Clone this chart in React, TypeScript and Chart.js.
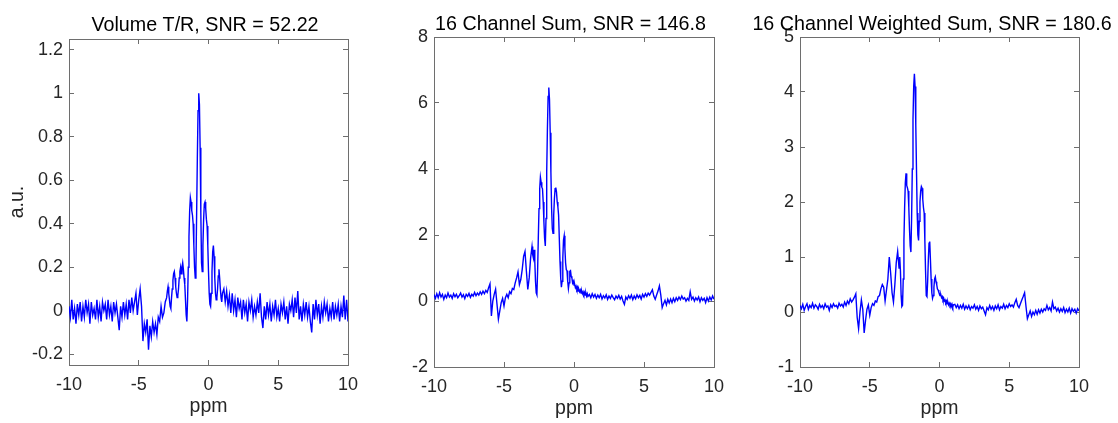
import React, { useEffect, useRef } from "react";
import { Chart, registerables } from "chart.js";

Chart.register(...registerables);

// ppm axis samples (finer sampling across the central multiplet)
const ppm = [
  -10, -9.9, -9.8, -9.7, -9.6, -9.5, -9.4, -9.3, -9.2, -9.1,
  -9, -8.9, -8.8, -8.7, -8.6, -8.5, -8.4, -8.3, -8.2, -8.1,
  -8, -7.9, -7.8, -7.7, -7.6, -7.5, -7.4, -7.3, -7.2, -7.1,
  -7, -6.9, -6.8, -6.7, -6.6, -6.5, -6.4, -6.3, -6.2, -6.1,
  -6, -5.9, -5.8, -5.7, -5.6, -5.5, -5.4, -5.3, -5.2, -5.1,
  -5, -4.9, -4.8, -4.7, -4.6, -4.5, -4.4, -4.3, -4.2, -4.1,
  -4, -3.9, -3.8, -3.7, -3.6, -3.5, -3.4, -3.3, -3.2, -3.1,
  -3, -2.95, -2.9, -2.85, -2.8, -2.75, -2.7, -2.65, -2.6, -2.55,
  -2.5, -2.45, -2.4, -2.35, -2.3, -2.25, -2.2, -2.15, -2.1, -2.05,
  -2, -1.95, -1.9, -1.85, -1.8, -1.75, -1.7, -1.65, -1.6, -1.55,
  -1.5, -1.45, -1.4, -1.35, -1.3, -1.25, -1.2, -1.15, -1.1, -1.05,
  -1, -0.95, -0.9, -0.85, -0.8, -0.75, -0.7, -0.65, -0.6, -0.55,
  -0.5, -0.45, -0.4, -0.35, -0.3, -0.25, -0.2, -0.15, -0.1, -0.05,
  0, 0.05, 0.1, 0.15, 0.2, 0.25, 0.3, 0.35, 0.4, 0.45,
  0.5, 0.55, 0.6, 0.65, 0.7, 0.75, 0.8, 0.85, 0.9, 0.95,
  1,
  1.1, 1.2, 1.3, 1.4, 1.5, 1.6, 1.7, 1.8, 1.9, 2,
  2.1, 2.2, 2.3, 2.4, 2.5, 2.6, 2.7, 2.8, 2.9, 3,
  3.1, 3.2, 3.3, 3.4, 3.5, 3.6, 3.7, 3.8, 3.9, 4,
  4.1, 4.2, 4.3, 4.4, 4.5, 4.6, 4.7, 4.8, 4.9, 5,
  5.1, 5.2, 5.3, 5.4, 5.5, 5.6, 5.7, 5.8, 5.9, 6,
  6.1, 6.2, 6.3, 6.4, 6.5, 6.6, 6.7, 6.8, 6.9, 7,
  7.1, 7.2, 7.3, 7.4, 7.5, 7.6, 7.7, 7.8, 7.9, 8,
  8.1, 8.2, 8.3, 8.4, 8.5, 8.6, 8.7, 8.8, 8.9, 9,
  9.1, 9.2, 9.3, 9.4, 9.5, 9.6, 9.7, 9.8, 9.9, 10,
];

const volumeTR = [
  0.02, -0.03, 0.05, -0.04, 0.01, -0.06, 0.03, -0.02, 0.04, -0.05,
  0.02, -0.03, 0.05, -0.01, 0.03, -0.06, 0.04, -0.02, 0.01, -0.04,
  0.05, -0.03, 0.02, -0.05, 0.04, 0.0, 0.03, -0.04, 0.05, -0.02,
  0.02, -0.05, 0.04, -0.01, 0.03, -0.03, -0.09, 0.02, -0.03, 0.04,
  -0.02, 0.03, -0.04, 0.05, -0.01, 0.06, 0.0, 0.04, 0.08, -0.02,
  0.05, 0.1, 0.02, -0.14, -0.06, -0.1, -0.04, -0.18, -0.07, -0.12,
  -0.05, -0.1, -0.06, -0.11, -0.03, -0.05, 0.02, -0.03, -0.01, 0.04,
  0.06, 0.09, 0.11, 0.08, 0.05, 0.02, 0.01, 0.06, 0.1, 0.14,
  0.17, 0.18, 0.15, 0.11, 0.08, 0.06, 0.07, 0.1, 0.15, 0.18,
  0.2, 0.17, 0.2, 0.22, 0.19, 0.15, 0.12, 0.05, -0.02, -0.05,
  0.05, 0.2, 0.34, 0.46, 0.52, 0.5, 0.46, 0.44, 0.4, 0.3,
  0.2, 0.15, 0.2, 0.45, 0.7, 0.92, 1.0, 0.95, 0.75, 0.45,
  0.22, 0.18, 0.3, 0.42, 0.49, 0.5, 0.47, 0.42, 0.39, 0.3,
  0.18, 0.08, 0.03, 0.02, 0.08, 0.18, 0.27, 0.3, 0.25, 0.15,
  0.08, 0.05, 0.06, 0.1, 0.16, 0.19, 0.15, 0.1, 0.06, 0.04,
  0.08,
  0.1, 0.04, 0.09, 0.02, 0.07, -0.01, 0.08, 0.0, 0.05, -0.03,
  0.06, 0.01, 0.04, -0.04, 0.05, -0.01, 0.03, -0.05, 0.04, 0.0,
  0.05, -0.03, 0.02, -0.02, 0.04, -0.01, 0.08, -0.03, -0.08, 0.02,
  -0.04, 0.04, -0.02, 0.03, -0.05, 0.02, -0.02, 0.05, -0.03, 0.01,
  -0.05, 0.03, -0.01, 0.04, -0.04, 0.02, -0.06, 0.03, 0.0, 0.05,
  -0.03, 0.06, -0.01, 0.09, -0.04, 0.02, -0.05, 0.03, -0.02, 0.04,
  -0.03, 0.02, -0.05, -0.1, 0.03, -0.04, 0.05, -0.02, 0.03, -0.06,
  0.02, -0.03, 0.04, -0.01, 0.03, -0.05, 0.01, -0.03, 0.04, -0.04,
  0.02, -0.02, 0.03, -0.05, 0.02, -0.03, 0.07, -0.04, 0.05, -0.05,
];

const channelSum = [
  0.2, 0.08, 0.22, 0.1, 0.25, 0.12, 0.2, 0.05, 0.18, 0.1,
  0.24, 0.12, 0.18, 0.08, 0.22, 0.13, 0.2, 0.1, 0.16, 0.24,
  0.12, 0.19, 0.07, 0.2, 0.14, 0.23, 0.11, 0.2, 0.15, 0.26,
  0.16, 0.24, 0.18, 0.28, 0.2, 0.3, 0.22, 0.32, 0.26, 0.4,
  0.52, -0.45, 0.0, 0.2, 0.36, -0.1, -0.55, -0.3, -0.05, 0.08,
  -0.15, 0.1, 0.2, 0.1, 0.28, 0.22, 0.38, 0.35, 0.55, 0.7,
  0.88, 0.5, 0.65, 0.95, 1.35, 1.5, 0.9, 0.35, 0.7, 1.3,
  1.65, 1.4, 1.3, 1.55, 1.2, 0.6, 0.25, 0.19, 0.9, 1.9,
  2.8, 3.4, 3.75, 3.6, 3.45, 3.4, 3.0, 2.4, 1.9, 1.67,
  2.5, 3.9, 5.2, 6.2, 6.47, 6.1, 5.1, 3.9, 2.8, 2.2,
  2.05, 2.6, 3.1, 3.4, 3.44, 3.3, 3.0, 2.85, 2.6, 1.9,
  1.2, 0.7, 0.42, 0.6, 1.3, 1.85, 1.98, 1.6, 1.15, 0.95,
  0.92, 0.6, 0.38, 0.55, 0.9, 0.92, 0.75, 0.7, 0.55, 0.6,
  0.48, 0.5, 0.4, 0.45, 0.36, 0.42, 0.3, 0.35, 0.28, 0.33,
  0.24, 0.3, 0.22, 0.28, 0.2, 0.26, 0.18, 0.24, 0.15, 0.22,
  0.14,
  0.2, 0.1, 0.22, 0.12, 0.2, 0.08, 0.18, 0.1, 0.2, 0.06,
  0.16, 0.09, 0.19, 0.05, 0.15, 0.08, 0.18, 0.1, 0.04, 0.15,
  0.08, 0.17, 0.06, 0.14, 0.0, -0.1, 0.12, 0.05, 0.16, 0.08,
  0.18, 0.04, 0.15, 0.07, 0.19, 0.1, 0.17, 0.06, 0.2, 0.12,
  0.22, 0.14, 0.24, 0.18, 0.26, 0.34, 0.15, 0.05, 0.18, 0.3,
  0.46, 0.18, -0.2, -0.08, 0.02, -0.12, 0.05, -0.06, 0.06, -0.05,
  0.08, -0.02, 0.1, 0.02, 0.12, 0.04, 0.15, 0.06, 0.1, 0.0,
  0.08, 0.02, 0.28, 0.05, 0.12, 0.0, 0.1, 0.03, 0.12, -0.02,
  0.1, 0.02, 0.08, -0.05, 0.1, 0.0, 0.12, 0.03, 0.15, 0.05,
];

const weightedSum = [
  0.12, 0.06, 0.14, 0.03, 0.1, 0.15, 0.05, 0.12, 0.08, 0.16,
  0.07, 0.13, 0.1, 0.05, 0.14, 0.08, 0.12, 0.06, 0.15, 0.09,
  0.11, 0.03, 0.13, 0.08, 0.15, 0.1, 0.12, 0.07, 0.16, 0.11,
  0.14, 0.09, 0.18, 0.12, 0.2, 0.15, 0.24, 0.18, 0.22, 0.27,
  0.33, -0.1, -0.3, 0.0, 0.22, 0.05, -0.38, -0.15, 0.05, 0.13,
  -0.06, 0.08, 0.15, 0.12, 0.2, 0.18, 0.28, 0.3, 0.42, 0.5,
  0.45, 0.2, 0.4, 0.6, 1.0, 0.7, 0.35, 0.18, 0.5, 0.9,
  1.1, 0.95, 0.8, 1.0, 0.75, 0.3, 0.1, 0.12, 0.6, 1.3,
  1.9, 2.35, 2.52, 2.3, 2.26, 2.2, 1.9, 1.5, 1.2, 1.09,
  1.7, 2.6, 3.5, 4.1, 4.33, 4.1, 3.4, 2.6, 1.8, 1.4,
  1.3, 1.65, 2.0, 2.2, 2.28, 2.25, 2.05, 1.9, 1.8, 1.3,
  0.75, 0.3, 0.28, 0.55, 0.95, 1.25, 1.28, 0.95, 0.6, 0.35,
  0.25, 0.3, 0.45, 0.6, 0.64, 0.55, 0.5, 0.42, 0.4, 0.36,
  0.33, 0.3, 0.31, 0.26, 0.28, 0.22, 0.25, 0.2, 0.22, 0.17,
  0.2, 0.15, 0.18, 0.13, 0.16, 0.12, 0.15, 0.1, 0.14, 0.09,
  0.13,
  0.14, 0.08, 0.13, 0.06, 0.12, 0.07, 0.14, 0.05, 0.11, 0.06,
  0.12, 0.04, 0.1, 0.07, 0.13, 0.05, 0.1, 0.03, 0.11, 0.06,
  0.09, 0.02, -0.05, 0.08, 0.04, 0.12, 0.05, 0.1, 0.03, 0.11,
  0.06, 0.13, 0.04, 0.1, 0.07, 0.14, 0.06, 0.12, 0.08, 0.15,
  0.1, 0.13, 0.09, 0.17, 0.23, 0.12, 0.08, 0.15, 0.22, 0.28,
  0.35, 0.1, -0.12, -0.05, 0.02, -0.08, 0.0, -0.05, 0.03, -0.04,
  0.04, -0.02, 0.05, 0.0, 0.06, 0.03, 0.12, 0.04, 0.08, 0.02,
  0.18, 0.06, 0.09, 0.02, 0.07, 0.0, 0.06, 0.01, 0.08, -0.01,
  0.05, 0.0, 0.07, -0.02, 0.06, 0.01, 0.05, -0.02, 0.06, 0.02,
];

const xTicks = [-10, -5, 0, 5, 10];
const yTicksVolume = [-0.2, 0, 0.2, 0.4, 0.6, 0.8, 1, 1.2];
const yTicksSum = [-2, 0, 2, 4, 6, 8];
const yTicksWeighted = [-1, 0, 1, 2, 3, 4, 5];

const titles = [
  "Volume T/R, SNR = 52.22",
  "16 Channel Sum, SNR = 146.8",
  "16 Channel Weighted Sum, SNR = 180.6",
];
const xLabel = "ppm";
const yLabel = "a.u.";

const FONT = "'Liberation Sans', Arial, Helvetica, sans-serif";
const PAGE_H = 423;

type PanelCfg = {
  series: number[];
  yTicks: number[];
  yMin: number;
  yMax: number;
  title: string;
  yTitle: string | null;
  box: { left: number; width: number };
  area: { left: number; right: number; top: number; bottom: number };
  titleX: number;
  titleY: number;
  xTitlePad: number;
};

const panels: PanelCfg[] = [
  {
    series: volumeTR, yTicks: yTicksVolume, yMin: -0.25, yMax: 1.25,
    title: titles[0], yTitle: yLabel,
    box: { left: 0, width: 385 },
    area: { left: 69, right: 348, top: 39, bottom: 365 },
    titleX: 205, titleY: 31, xTitlePad: 4.6,
  },
  {
    series: channelSum, yTicks: yTicksSum, yMin: -2, yMax: 8,
    title: titles[1], yTitle: null,
    box: { left: 385, width: 365 },
    area: { left: 434, right: 714, top: 37, bottom: 367 },
    titleX: 570.5, titleY: 29.5, xTitlePad: 2.9,
  },
  {
    series: weightedSum, yTicks: yTicksWeighted, yMin: -1, yMax: 5,
    title: titles[2], yTitle: null,
    box: { left: 750, width: 368 },
    area: { left: 800, right: 1079, top: 37, bottom: 367 },
    titleX: 932, titleY: 29.5, xTitlePad: 2.9,
  },
];

const AXIS_COLOR = "#6e6e6e";
const TEXT_COLOR = "#262626";

function Panel({ cfg }: { cfg: PanelCfg }) {
  const ref = useRef<HTMLCanvasElement | null>(null);

  useEffect(() => {
    const canvas = ref.current;
    if (!canvas) return;
    const a = cfg.area;
    const W = cfg.box.width;
    const fixW = (w: number) => (s: any) => { s.width = w; };
    const fixH = (h: number) => (s: any) => { s.height = h; };
    const setTicks = (vals: number[]) => (s: any) => {
      s.ticks = vals.map((v) => ({ value: v }));
    };
    const grid = {
      display: true,
      drawOnChartArea: false,
      drawTicks: true,
      tickLength: -5,
      color: AXIS_COLOR,
      lineWidth: 1,
    };
    const border = { display: true, color: AXIS_COLOR, width: 1 };
    const tickFont = { family: FONT, size: 18 };

    const titlePlugin = {
      id: "panelTitle",
      afterDraw(chart: any) {
        const ctx = chart.ctx;
        ctx.save();
        ctx.font = `19.7px ${FONT}`;
        ctx.fillStyle = "#000000";
        ctx.textAlign = "center";
        ctx.textBaseline = "alphabetic";
        ctx.fillText(cfg.title, cfg.titleX - cfg.box.left, cfg.titleY);
        ctx.restore();
      },
    };

    const chart = new Chart(canvas, {
      type: "line",
      data: {
        datasets: [
          {
            data: ppm.map((x, i) => ({ x, y: cfg.series[i] })),
            borderColor: "#0000ff",
            borderWidth: 1.4,
            pointRadius: 0,
            tension: 0,
            fill: false,
          },
        ],
      },
      options: {
        animation: false,
        responsive: false,
        devicePixelRatio: 1,
        layout: { padding: 0 },
        plugins: {
          legend: { display: false },
          tooltip: { enabled: false },
          title: { display: false },
        },
        scales: {
          x: {
            type: "linear",
            position: "bottom",
            min: -10,
            max: 10,
            afterBuildTicks: setTicks(xTicks),
            afterFit: fixH(PAGE_H - a.bottom),
            grid,
            border,
            ticks: {
              color: TEXT_COLOR,
              font: tickFont,
              padding: 14,
              maxRotation: 0,
              autoSkip: false,
              callback: (v: any) => String(v),
            },
            title: {
              display: true,
              text: xLabel,
              color: TEXT_COLOR,
              font: { family: FONT, size: 19.5 },
              padding: { top: 0, bottom: cfg.xTitlePad },
            },
          },
          x2: {
            type: "linear",
            position: "top",
            min: -10,
            max: 10,
            afterBuildTicks: setTicks(xTicks),
            afterFit: fixH(a.top),
            grid,
            border,
            ticks: { display: false },
          },
          y: {
            type: "linear",
            position: "left",
            min: cfg.yMin,
            max: cfg.yMax,
            afterBuildTicks: setTicks(cfg.yTicks),
            afterFit: fixW(a.left - cfg.box.left),
            grid,
            border,
            ticks: {
              color: TEXT_COLOR,
              font: tickFont,
              padding: 11,
              autoSkip: false,
              callback: (v: any) => String(v),
            },
            title: {
              display: !!cfg.yTitle,
              text: cfg.yTitle || "",
              color: TEXT_COLOR,
              font: { family: FONT, size: 19.5 },
              padding: { top: 5.5, bottom: 0 },
            },
          },
          y2: {
            type: "linear",
            position: "right",
            min: cfg.yMin,
            max: cfg.yMax,
            afterBuildTicks: setTicks(cfg.yTicks),
            afterFit: fixW(cfg.box.left + W - a.right),
            grid,
            border,
            ticks: { display: false },
          },
        },
      } as any,
      plugins: [titlePlugin],
    });
    return () => chart.destroy();
  }, [cfg]);

  return (
    <canvas
      ref={ref}
      width={cfg.box.width}
      height={PAGE_H}
      style={{
        position: "absolute",
        left: cfg.box.left,
        top: 0,
        width: cfg.box.width,
        height: PAGE_H,
      }}
    />
  );
}

export default function App() {
  return (
    <div
      style={{
        position: "absolute",
        left: 0,
        top: 0,
        width: 1118,
        height: PAGE_H,
        background: "#ffffff",
        overflow: "hidden",
      }}
    >
      {panels.map((p, i) => (
        <Panel key={i} cfg={p} />
      ))}
    </div>
  );
}
